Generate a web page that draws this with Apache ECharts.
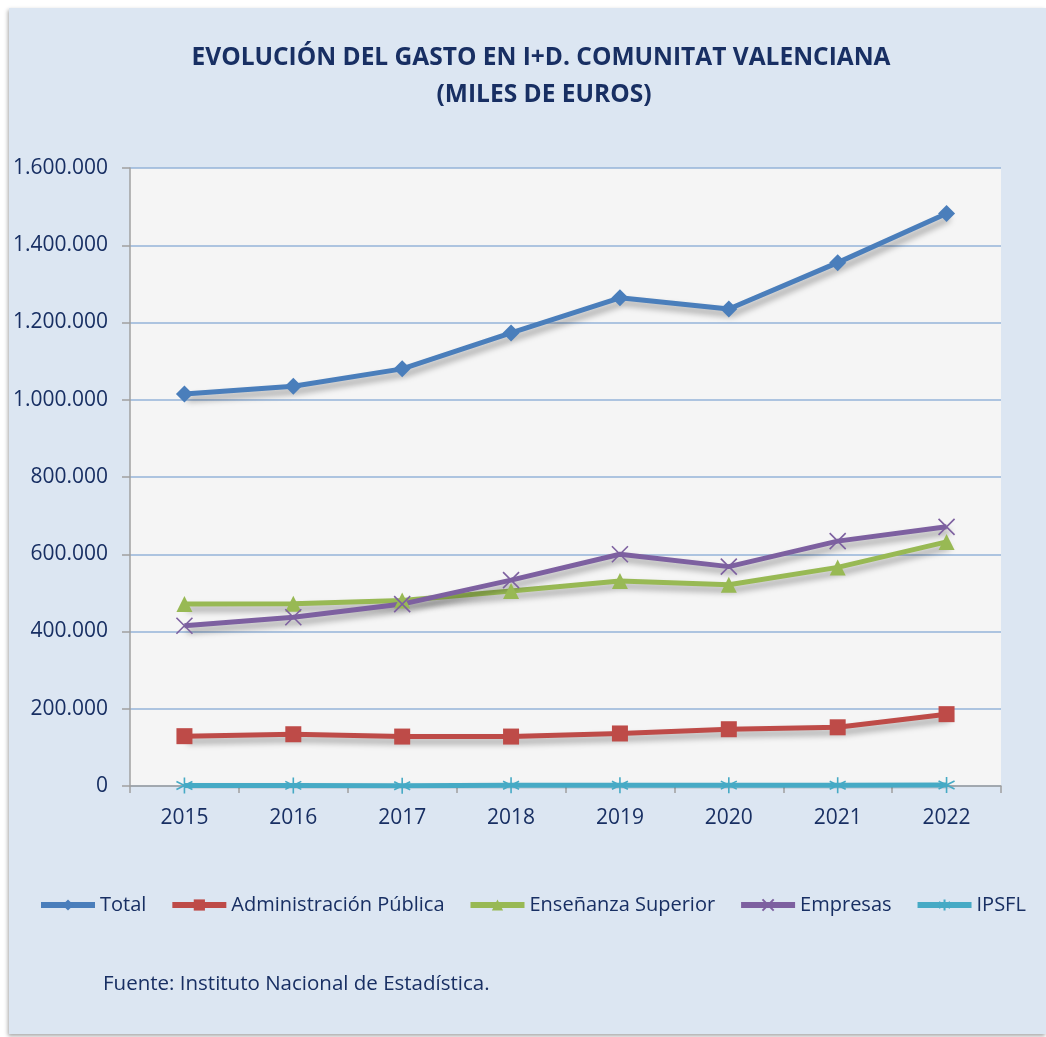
<!DOCTYPE html>
<html>
<head>
<meta charset="utf-8">
<script src="https://cdn.jsdelivr.net/npm/echarts@6/dist/echarts.min.js"></script>
<style>
html,body{margin:0;padding:0;background:#ffffff;}
#chart{width:1046px;height:1037px;}
</style>
</head>
<body>
<div id="chart"></div>
<script>
const years = ['2015','2016','2017','2018','2019','2020','2021','2022'];
const total = [1015000, 1035000, 1080000, 1173000, 1264000, 1235000, 1355000, 1482000];
const adminPublica = [129000, 134000, 128000, 128000, 136000, 147000, 152000, 186000];
const ensenanzaSuperior = [471000, 472000, 480000, 505000, 531000, 521000, 566000, 632000];
const empresas = [415000, 437000, 471000, 533000, 600000, 568000, 634000, 671000];
const ipsfl = [1500, 1600, 800, 1800, 2000, 2200, 2100, 2500];
const yTicks = [0, 200000, 400000, 600000, 800000, 1000000, 1200000, 1400000, 1600000];

const navy = '#182f63';
const baseFont = "'Open Sans', sans-serif";
const fmt = v => String(v).replace(/\B(?=(\d{3})+(?!\d))/g, '.');

const chart = echarts.init(document.getElementById('chart'), null, {renderer: 'canvas'});

const shadow = {shadowColor: 'rgba(0,0,0,0.35)', shadowBlur: 6, shadowOffsetX: 3, shadowOffsetY: 5};
function mkSeries(name, data, color, symbol, size, extra) {
  return Object.assign({
    name: name,
    type: 'line',
    data: data,
    symbol: symbol,
    symbolSize: size,
    showAllSymbol: true,
    color: color,
    lineStyle: Object.assign({width: 5, color: color}, shadow),
    itemStyle: {color: color},
    emphasis: {disabled: true},
    z: 3
  }, extra || {});
}

const option = {
  backgroundColor: '#ffffff',
  animation: false,
  graphic: [
    {type: 'rect', z: -10, shape: {x: 9, y: 8, width: 1037, height: 1026},
     style: {fill: '#dce6f2', shadowColor: 'rgba(0,0,0,0.35)', shadowBlur: 4, shadowOffsetX: -1, shadowOffsetY: 2}},
    {type: 'text', z: 10, style: {x: 541, y: 58, text: 'EVOLUCIÓN DEL GASTO EN I+D. COMUNITAT VALENCIANA',
      align: 'center', verticalAlign: 'middle', font: "bold 24.5px 'Open Sans', sans-serif", fill: navy}},
    {type: 'text', z: 10, style: {x: 544, y: 95, text: '(MILES DE EUROS)',
      align: 'center', verticalAlign: 'middle', font: "bold 24.5px 'Open Sans', sans-serif", fill: navy}},
    {type: 'text', z: 10, style: {x: 103, y: 984, text: 'Fuente: Instituto Nacional de Estadística.',
      align: 'left', verticalAlign: 'middle', font: "20.5px 'Open Sans', sans-serif", fill: navy}}
  ],
  grid: {left: 130, right: 45, top: 168, bottom: 251, show: true, backgroundColor: '#f5f5f5', borderWidth: 0},
  legend: {
    top: 890, left: 33, itemGap: 23, itemWidth: 54, itemHeight: 14,
    lineStyle: {width: 6},
    textStyle: {color: navy, fontSize: 20, fontFamily: baseFont},
    data: ['Total', 'Administración Pública', 'Enseñanza Superior', 'Empresas', 'IPSFL']
  },
  xAxis: {
    type: 'category', data: years, boundaryGap: true,
    axisLine: {lineStyle: {color: '#a0a0a0', width: 1.5}},
    axisTick: {show: true, length: 7, lineStyle: {color: '#a0a0a0', width: 1.5}},
    axisLabel: {color: navy, fontSize: 21, fontFamily: baseFont, margin: 22},
    splitLine: {show: false}
  },
  yAxis: {
    type: 'value', min: 0, max: yTicks[yTicks.length - 1], interval: yTicks[1] - yTicks[0],
    axisLine: {show: true, lineStyle: {color: '#a0a0a0', width: 1.5}},
    axisTick: {show: true, length: 8, lineStyle: {color: '#a0a0a0', width: 1.5}},
    axisLabel: {color: navy, fontSize: 21, fontFamily: baseFont, margin: 22, formatter: fmt},
    splitLine: {show: true, lineStyle: {color: '#95b3d9', width: 1.5}}
  },
  series: [
    mkSeries('Total', total, '#4a7ebb', 'diamond', 17),
    mkSeries('Administración Pública', adminPublica, '#be4b48', 'rect', 16),
    mkSeries('Enseñanza Superior', ensenanzaSuperior, '#98b954', 'triangle', 16),
    mkSeries('Empresas', empresas, '#7d60a0', 'path://M0,0L10,10M10,0L0,10', 16,
      {itemStyle: {color: '#7d60a0', borderColor: '#7d60a0', borderWidth: 1.6}}),
    mkSeries('IPSFL', ipsfl, '#46aac5', 'path://M5,0L5,10M0,2.5L10,7.5M0,7.5L10,2.5', 16,
      {itemStyle: {color: '#46aac5', borderColor: '#46aac5', borderWidth: 1.6}})
  ]
};
chart.setOption(option);
</script>
</body>
</html>
